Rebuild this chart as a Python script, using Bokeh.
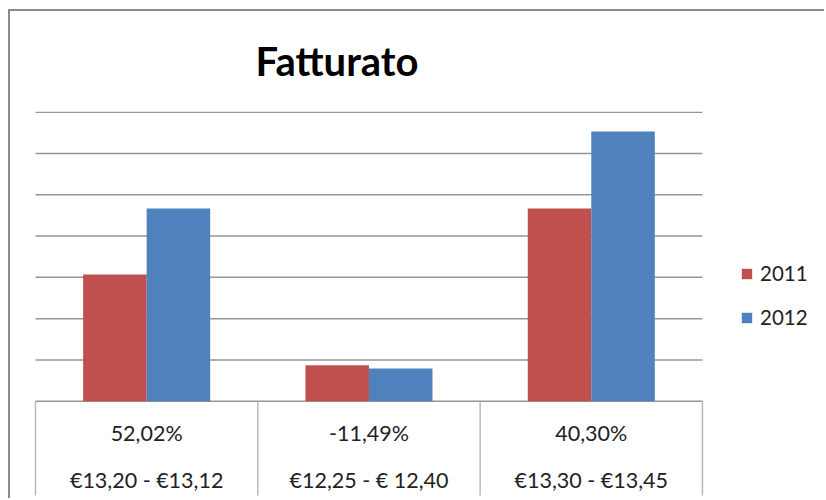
from bokeh.plotting import figure
from bokeh.models import Range1d, Legend, LegendItem, ColumnDataSource
from bokeh.core.properties import value
from bokeh.embed import file_html
from bokeh.resources import INLINE

# ---- data ----
title_text = "Fatturato"
pct_labels = ["52,02%", "-11,49%", "40,30%"]
price_labels = ["€13,20 - €13,12", "€12,25 - € 12,40", "€13,30 - €13,45"]
years = ["2011", "2012"]
v2011 = [3.07, 0.87, 4.67]
v2012 = [4.67, 0.79, 6.53]
grid_values = [0, 1, 2, 3, 4, 5, 6, 7]

RED = "#C0504D"
BLUE = "#4F81BD"
FONT = "Lato"

n = len(pct_labels)
centers = [i + 0.5 for i in range(n)]
bounds = list(range(n + 1))
bw = 0.2857

# layout (screen) constants, converted through the scales
TABLE_BOTTOM = -2.284
ROW1_Y = -0.76
ROW2_Y = -1.90

p = figure(width=816, height=489, output_backend="svg", toolbar_location=None,
           x_range=Range1d(-0.1124, 3.558), y_range=Range1d(-2.404, 7.016),
           min_border_left=0, min_border_right=0, min_border_top=100,
           min_border_bottom=0)
p.styles = {"margin-left": "8px", "margin-top": "9px",
            "border-top": "2px solid #8a8a8a", "border-left": "2px solid #8a8a8a"}
p.xaxis.visible = False
p.yaxis.visible = False
p.xgrid.visible = False
p.ygrid.visible = False
p.outline_line_color = None

# gridlines (value axis) and table
p.segment(x0=[0] * len(grid_values), x1=[n] * len(grid_values),
          y0=grid_values, y1=grid_values, line_color="#969696", line_width=1.5)
p.segment(x0=bounds, x1=bounds, y0=[0] * len(bounds),
          y1=[TABLE_BOTTOM] * len(bounds), line_color="#b4b4b4", line_width=1.4)

src = ColumnDataSource(dict(
    x11=[c - bw / 2 for c in centers],
    x12=[c + bw / 2 for c in centers],
    v11=v2011, v12=v2012))

r11 = p.vbar(x="x11", top="v11", width=bw, source=src, fill_color=RED, line_color=None)
r12 = p.vbar(x="x12", top="v12", width=bw, source=src, fill_color=BLUE, line_color=None)

tsrc = ColumnDataSource(dict(x=centers, pct=pct_labels, price=price_labels,
                             y1=[ROW1_Y] * n, y2=[ROW2_Y] * n))
for col, ycol in (("pct", "y1"), ("price", "y2")):
    p.text(x="x", y=ycol, text=col, source=tsrc, text_font=value(FONT),
           text_font_size="21.5px", text_color="#222222",
           text_align="center", text_baseline="middle")

# title
p.title.text = title_text
p.title.text_font = FONT
p.title.text_font_style = "bold"
p.title.text_font_size = "40px"
p.title.text_color = "black"
p.title.align = "left"
p.title.offset = 245
p.title.standoff = 49
p.title.vertical_align = "top"

legend = Legend(items=[LegendItem(label=years[0], renderers=[r11]),
                       LegendItem(label=years[1], renderers=[r12])],
                location=(730, 171), glyph_width=13, glyph_height=13,
                label_text_font=FONT, label_text_font_size="20.5px",
                label_text_color="#222222", label_standoff=7, spacing=20,
                padding=0, margin=0, border_line_color=None,
                background_fill_alpha=0)
p.add_layout(legend)

open("out.html", "w").write(file_html(p, INLINE))
